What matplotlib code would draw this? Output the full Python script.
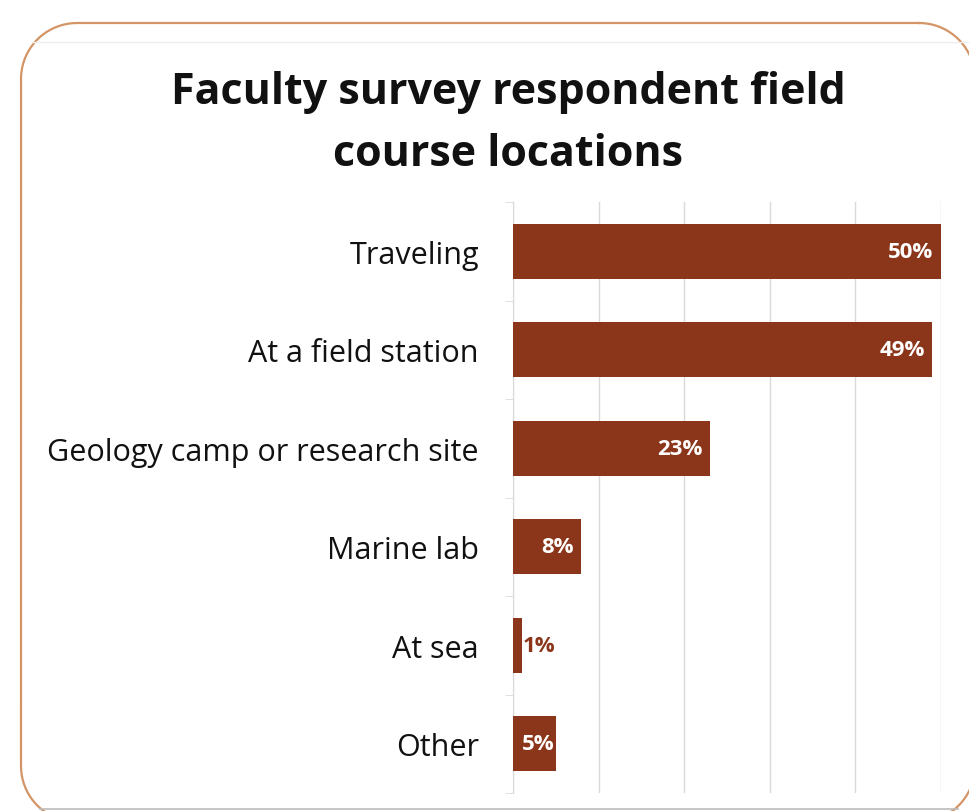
import matplotlib
matplotlib.use("Agg")
import matplotlib.pyplot as plt
import numpy as np

categories = ["Traveling", "At a field station", "Geology camp or research site",
              "Marine lab", "At sea", "Other"]
values = [50, 49, 23, 8, 1, 5]
labels = ["50%", "49%", "23%", "8%", "1%", "5%"]

W, H = 969, 812
fig = plt.figure(figsize=(W/100, H/100), dpi=100)
fig.patch.set_facecolor("white")

# background decoration in pixel coordinates (y measured from top)
bg = fig.add_axes([0, 0, 1, 1])
bg.set_xlim(0, W)
bg.set_ylim(H, 0)
bg.axis("off")

def rounded_rect(x0, y0, x1, y1, r, n=40):
    pts = []
    corners = [((x1 - r, y0 + r), -90, 0), ((x1 - r, y1 - r), 0, 90),
               ((x0 + r, y1 - r), 90, 180), ((x0 + r, y0 + r), 180, 270)]
    for (cx, cy), a0, a1 in corners:
        t = np.radians(np.linspace(a0, a1, n))
        pts.append(np.column_stack([cx + r * np.cos(t), cy + r * np.sin(t)]))
    pts = np.vstack(pts + [pts[0][:1]])
    return pts[:, 0], pts[:, 1]

bx, by = rounded_rect(21, 24, 975, 823, 56)
bg.plot(bx, by, color="#D49466", lw=1.6, clip_on=False, solid_joinstyle="round")
bg.plot([32, W], [43, 43], color="#EEEEEE", lw=1)
bg.plot([40, 958], [810, 810], color="#BBBBBB", lw=1.2)

font = "Open Sans"
brown = "#8B361A"

fig.text(508/W, 1-92/H, "Faculty survey respondent field", ha="center", va="center",
         fontsize=31, fontweight="bold", family=font, color="#111111")
fig.text(508/W, 1-155/H, "course locations", ha="center", va="center",
         fontsize=31, fontweight="bold", family=font, color="#111111")

ax = fig.add_axes([513/W, 1-794/H, (941-513)/W, (794-203)/H])
n = len(categories)
ypos = list(range(n))
ax.barh(ypos, values, height=0.56, color=brown, zorder=3)
ax.set_xlim(0, 50)
ax.set_ylim(n-0.5, -0.5)
ax.set_xticks([0, 10, 20, 30, 40, 50])
ax.xaxis.grid(True, color="#D9D9D9", lw=1, zorder=0)
ax.tick_params(axis="x", length=0, labelbottom=False)
ax.set_yticks(ypos)
ax.set_yticklabels(categories, family=font, fontsize=22, color="#111111")
ax.tick_params(axis="y", length=0, pad=24.5)
ax.set_yticks([i - 0.5 for i in range(n+1)], minor=True)
ax.tick_params(axis="y", which="minor", length=6, color="#D9D9D9")
for s in ["top", "right", "bottom"]:
    ax.spines[s].set_visible(False)
ax.spines["left"].set_color("#D9D9D9")

for i, (v, lab) in enumerate(zip(values, labels)):
    if v >= 7:
        ax.text(v - 0.9, i, lab, ha="right", va="center", color="white",
                fontsize=16, fontweight="bold", family=font, zorder=4)
    elif v >= 3:
        ax.text(v / 2 + 0.4, i, lab, ha="center", va="center", color="white",
                fontsize=16, fontweight="bold", family=font, zorder=4)
    else:
        ax.text(v + 0.1, i, lab, ha="left", va="center", color=brown,
                fontsize=16, fontweight="bold", family=font, zorder=4)

fig.savefig("out.png", dpi=100, facecolor="white")
